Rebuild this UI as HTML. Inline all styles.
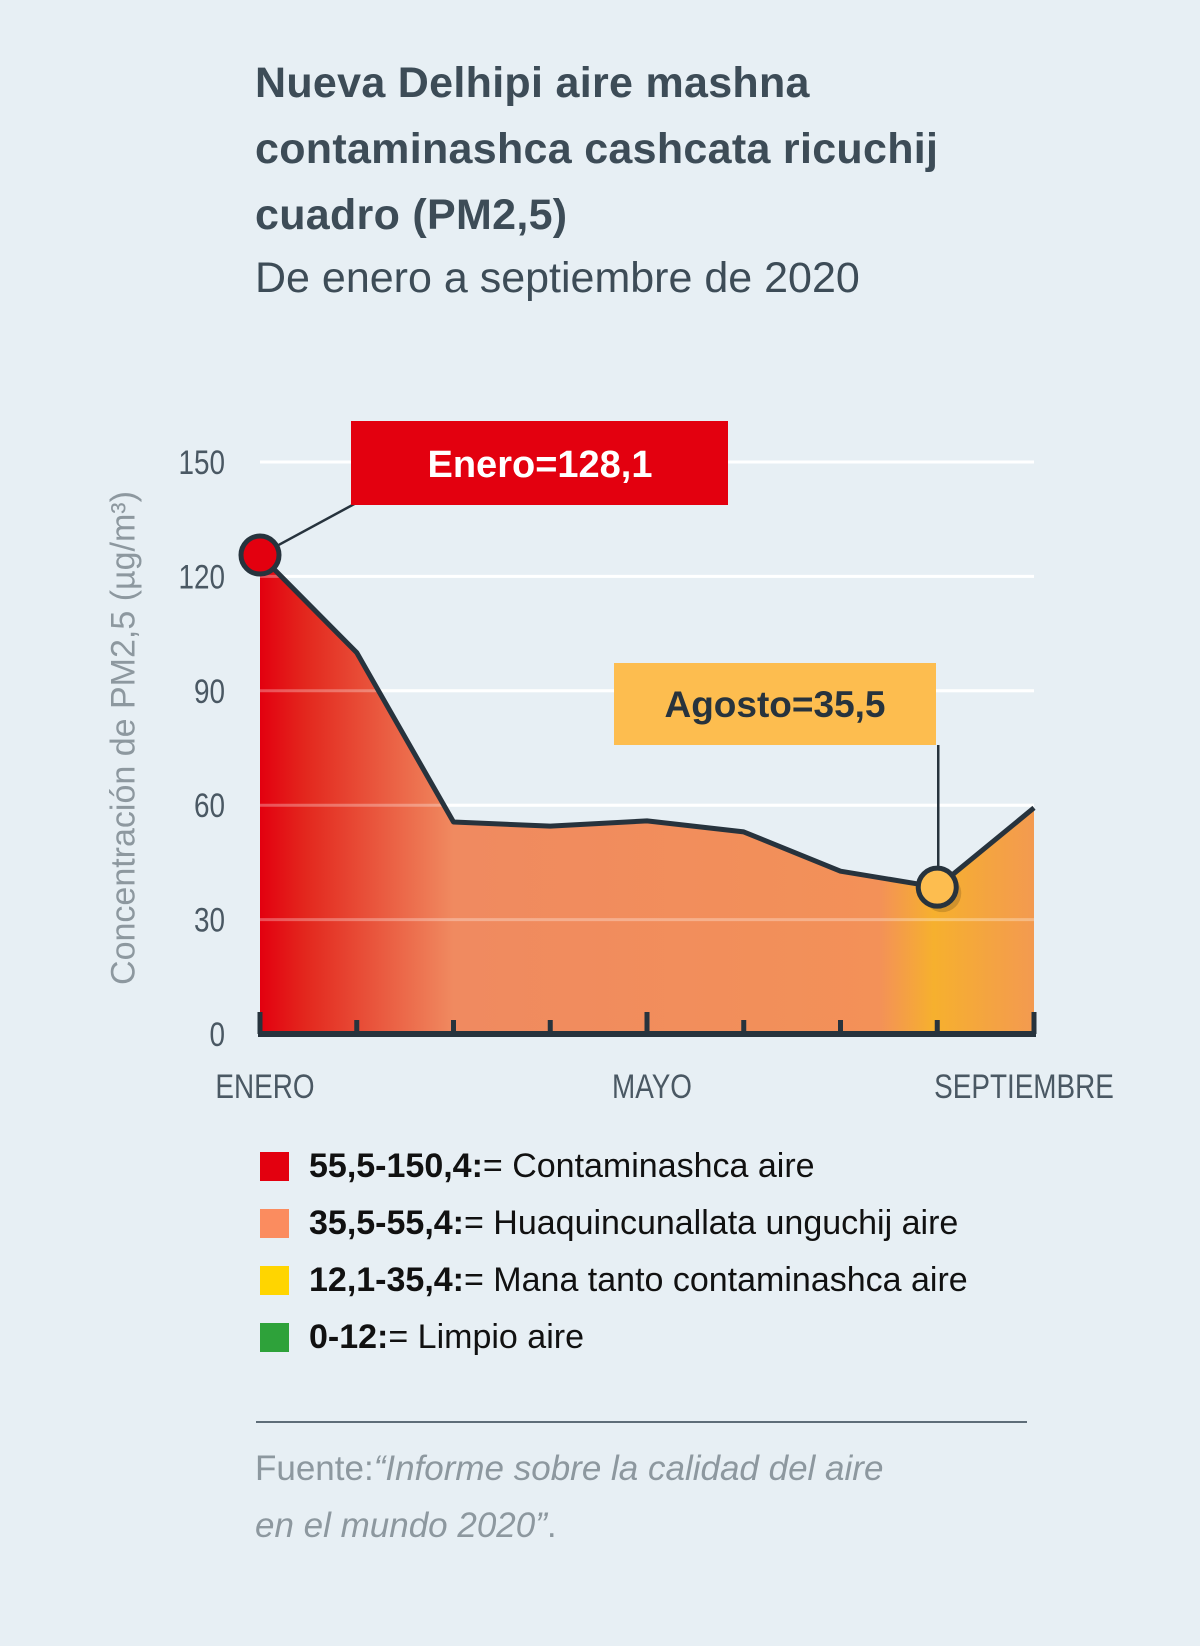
<!DOCTYPE html>
<html><head><meta charset="utf-8"><style>
body{margin:0;width:1200px;height:1646px;background:#e7eff4;font-family:"Liberation Sans",sans-serif;overflow:hidden;position:relative}
.t{position:absolute;left:255px;color:#3d4c57}
</style></head><body>
<div class="t" style="top:50px;font-size:43px;font-weight:bold;line-height:66px;letter-spacing:0.3px">Nueva Delhipi aire mashna<br>contaminashca cashcata ricuchij<br>cuadro (PM2,5)</div>
<div class="t" style="top:250px;font-size:43px;line-height:56px">De enero a septiembre de 2020</div>
<svg id="chart" width="1200" height="1140" style="position:absolute;left:0;top:0" xmlns="http://www.w3.org/2000/svg">
<defs><linearGradient id="g" x1="260" x2="1034" y1="0" y2="0" gradientUnits="userSpaceOnUse">
<stop offset="0" stop-color="#e3000f"/><stop offset="0.06" stop-color="#e3281e"/><stop offset="0.25" stop-color="#f08a60"/><stop offset="0.8" stop-color="#f39158"/><stop offset="0.87" stop-color="#f6b02e"/><stop offset="1" stop-color="#f39a50"/></linearGradient></defs>
<g id="grid"></g><g id="area"></g><g id="ann"></g></svg>
<div style="position:absolute;left:124px;top:738px;transform:translate(-50%,-50%) rotate(-90deg);white-space:nowrap;font-size:34px;color:#8d989f">Concentración de PM2,5 (µg/m³)</div>
<div id="legend"></div>
<div style="position:absolute;left:256px;top:1421px;width:771px;height:2px;background:#5e6d78"></div>
<div class="t" style="top:1440px;font-size:35px;line-height:57px;color:#8d989f">Fuente:<i>“Informe sobre la calidad del aire<br>en el mundo 2020”</i>.</div>
<script>
const months=["ENERO","FEB","MAR","ABR","MAYO","JUN","JUL","AGO","SEPTIEMBRE"];
const values=[125.6,100,55.6,54.5,55.9,53,42.7,38.5,59.3];
const yTicks=[0,30,60,90,120,150];
const xLabelIdx=[0,4,8];
const NS="http://www.w3.org/2000/svg";
const X0=260,X1=1034,Y0=1034,Y150=462;
const x=i=>X0+(X1-X0)*i/(months.length-1);
const y=v=>Y0-(Y0-Y150)*v/150;
function mk(p,t,a){const e=document.createElementNS(NS,t);for(const k in a)e.setAttribute(k,a[k]);p.appendChild(e);return e;}
const grid=document.getElementById('grid'),area=document.getElementById('area'),ann=document.getElementById('ann');
yTicks.forEach(v=>{
 if(v>0){const l=mk(grid,'line',{x1:X0,x2:X1,y1:y(v),y2:y(v),stroke:'#ffffff','stroke-width':3});
 
 }
 const t=mk(grid,'text',{x:225,y:y(v)+12,'text-anchor':'end','font-size':34,fill:'#4a5863',transform:'',style:'font-stretch:condensed'});
 
 
 t.textContent=v;
 const bb=225;t.setAttribute('transform','translate('+bb+',0) scale(0.82,1) translate('+(-bb)+',0)');
});
let d='M'+x(0)+','+Y0;values.forEach((v,i)=>d+=' L'+x(i)+','+y(v));d+=' L'+x(values.length-1)+','+Y0+'Z';
const ar=mk(area,'path',{d:d,fill:'url(#g)'});


// redraw gridlines faint over area
yTicks.forEach(v=>{if(v>0){const l=mk(area,'line',{x1:X0,x2:X1,y1:y(v),y2:y(v),stroke:'#ffffff','stroke-opacity':0.3,'stroke-width':3});
 
 }});
const ln=mk(area,'polyline',{points:values.map((v,i)=>x(i)+','+y(v)).join(' '),fill:'none',stroke:'#27333d','stroke-width':5,'stroke-linejoin':'round'});


const ax=mk(area,'line',{x1:X0-2,x2:X1+2,y1:Y0,y2:Y0,stroke:'#27333d','stroke-width':6});


months.forEach((m,i)=>{const big=(i%4==0);
 const tk=mk(area,'line',{x1:x(i),x2:x(i),y1:Y0-(big?22:14),y2:Y0,stroke:'#27333d','stroke-width':5});
 
 });
xLabelIdx.forEach(i=>{const t=mk(area,'text',{x:x(i)+(i==8?-10:5),y:1098,'text-anchor':'middle','font-size':34,fill:'#4a5863'});
 
 
 t.textContent=months[i];
 const cx=x(i)+(i==8?-10:5);t.setAttribute('transform','translate('+cx+',0) scale(0.82,1) translate('+(-cx)+',0)');});
// annotations
const jx=x(0),jy=y(values[0]),ax8=x(7),ay8=y(values[7]);
let l1=mk(ann,'line',{x1:jx,y1:jy,x2:358,y2:502,stroke:'#27333d','stroke-width':2.5});


let r1=mk(ann,'rect',{x:351,y:421,width:377,height:84,fill:'#e3000f'});


let t1=mk(ann,'text',{x:540,y:477,'text-anchor':'middle','font-size':38,'font-weight':'bold',fill:'#fff'});


t1.textContent='Enero=128,1';
let c1=mk(ann,'circle',{cx:jx,cy:jy,r:19,fill:'#e3000f',stroke:'#27333d','stroke-width':5});


let l2=mk(ann,'line',{x1:ax8+1,y1:745,x2:ax8+1,y2:ay8,stroke:'#27333d','stroke-width':2.5});


let r2=mk(ann,'rect',{x:614,y:663,width:322,height:82,fill:'#fdbd4f'});


let t2=mk(ann,'text',{x:775,y:717,'text-anchor':'middle','font-size':37,'font-weight':'bold',fill:'#27333d'});


t2.textContent='Agosto=35,5';
let sh=mk(ann,'circle',{cx:ax8+5,cy:ay8+6,r:19,fill:'#000','fill-opacity':0.15});


let c2=mk(ann,'circle',{cx:ax8,cy:ay8,r:19,fill:'#fdbd4f',stroke:'#27333d','stroke-width':5});


// legend
const legColors=["#e3000f","#fb8c5f","#ffd500","#2ea23a"];
const legBold=["55,5-150,4:","35,5-55,4:","12,1-35,4:","0-12:"];
const legText=[" = Contaminashca aire","= Huaquincunallata unguchij aire"," = Mana tanto contaminashca aire"," = Limpio aire"];
const lg=document.getElementById('legend');
legColors.forEach((c,i)=>{const row=document.createElement('div');
 
 
 row.style.cssText='position:absolute;left:260px;top:'+(1144+i*57)+'px;height:44px;display:flex;align-items:center;font-size:34px;color:#111;white-space:nowrap';
 row.innerHTML='<span style="display:inline-block;width:29px;height:29px;background:'+c+';margin-right:20px"></span><b>'+legBold[i]+'</b>'+legText[i];
 lg.appendChild(row);});
</script>
</body></html>
